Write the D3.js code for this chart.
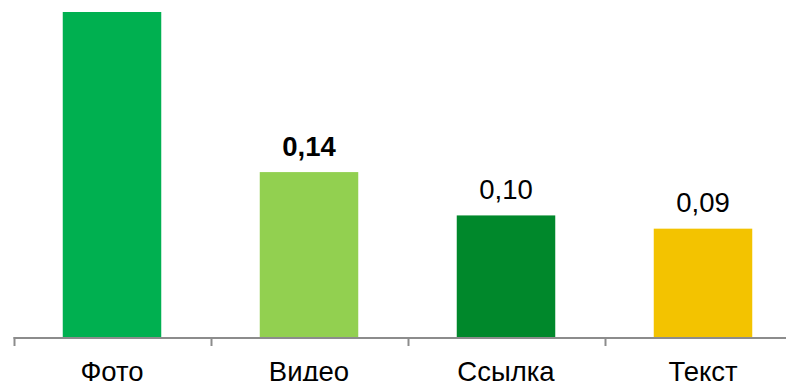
<!DOCTYPE html>
<html>
<head>
<meta charset="utf-8">
<script src="https://d3js.org/d3.v7.min.js"></script>
<style>
body { margin: 0; background: #fff; }
svg { display: block; font-family: Arial, "Liberation Sans", sans-serif; }
</style>
</head>
<body>
<script>
// categories and values
var categories = ["Фото", "Видео", "Ссылка", "Текст"];
var values = [0.27, 0.137, 0.101, 0.090];
var colors = ["#00b050", "#92d050", "#00882b", "#f3c300"];
var boldLabel = [false, true, false, false];

var width = 786,
	height = 381,
	axisY = 337;

var svg = d3.select("body")
			.append("svg")
			.attr("width", width)
			.attr("height", height);

var x = d3.scaleBand()
		.domain(categories)
		.range([13.5, 801.5])
		.paddingInner(0.5)
		.paddingOuter(0.25);

var y = d3.scaleLinear()
		.domain([0, 0.27])
		.range([axisY, 12]);

var data = categories.map(function(c, i) {
	return { cat: c, value: values[i], color: colors[i], bold: boldLabel[i] };
});

svg.append("g")
	.selectAll("rect")
	.data(data)
	.enter()
	.append("rect")
		.attr("x", function(d) { return x(d.cat); })
		.attr("y", function(d) { return y(d.value); })
		.attr("width", x.bandwidth())
		.attr("height", function(d) { return axisY - y(d.value); })
		.attr("fill", function(d) { return d.color; });

// value labels (the first one falls above the visible area, as in the original)
svg.append("g")
	.selectAll("text")
	.data(data.filter(function(d) { return y(d.value) > 40; }))
	.enter()
	.append("text")
		.attr("x", function(d) { return x(d.cat) + x.bandwidth() / 2; })
		.attr("y", function(d) { return y(d.value) - 16.5; })
		.attr("text-anchor", "middle")
		.attr("font-size", 27.5)
		.attr("font-weight", function(d) { return d.bold ? "bold" : "normal"; })
		.attr("fill", "#000")
		.text(function(d) { return d3.format(".2f")(d.value).replace(".", ","); });

// category axis with ticks between the bands
var step = x.step();
var tickPos = categories.map(function(c) { return x(c) - step * 0.25; });

var axis = svg.append("g");
axis.append("line")
	.attr("x1", tickPos[0])
	.attr("x2", width)
	.attr("y1", axisY + 1)
	.attr("y2", axisY + 1)
	.attr("stroke", "#8c8c8c")
	.attr("stroke-width", 2);

axis.selectAll(".tick")
	.data(tickPos)
	.enter()
	.append("line")
		.attr("class", "tick")
		.attr("x1", function(d) { return d + 1; })
		.attr("x2", function(d) { return d + 1; })
		.attr("y1", axisY)
		.attr("y2", axisY + 9)
		.attr("stroke", "#8c8c8c")
		.attr("stroke-width", 2);

axis.selectAll(".cat")
	.data(categories)
	.enter()
	.append("text")
		.attr("class", "cat")
		.attr("x", function(d) { return x(d) + x.bandwidth() / 2; })
		.attr("y", 381)
		.attr("text-anchor", "middle")
		.attr("font-size", 27.5)
		.attr("fill", "#000")
		.text(function(d) { return d; });
</script>
</body>
</html>
